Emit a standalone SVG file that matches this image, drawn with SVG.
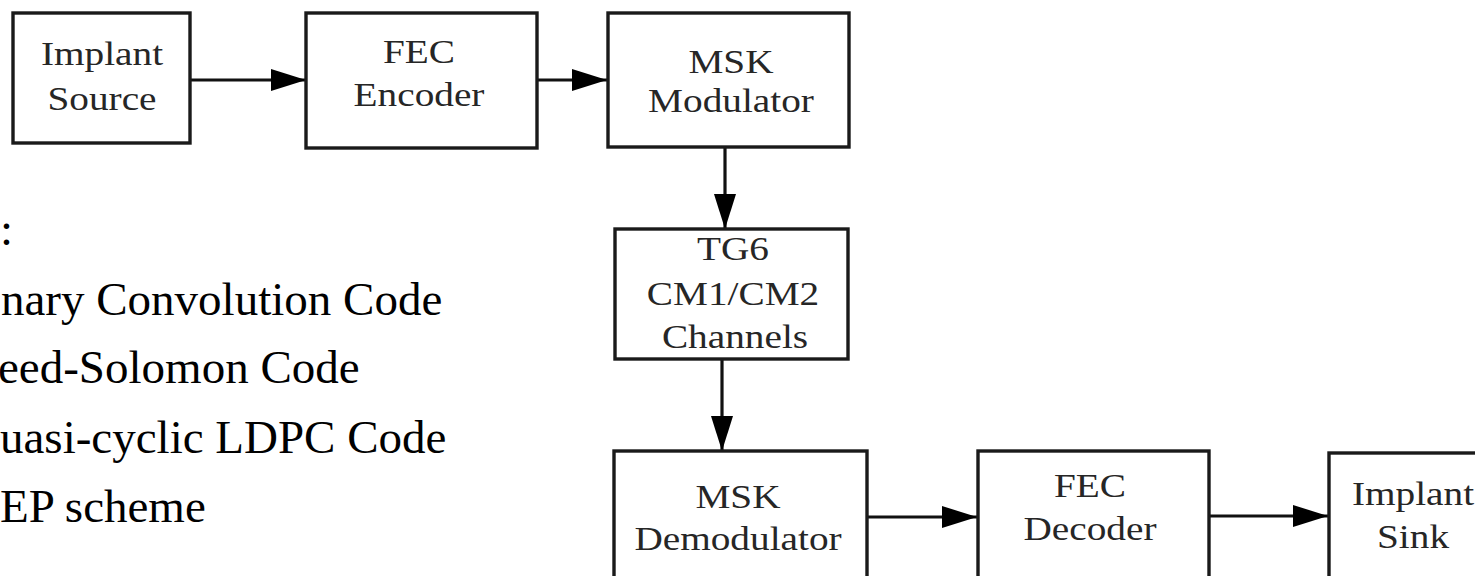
<svg xmlns="http://www.w3.org/2000/svg" width="1475" height="576" viewBox="0 0 1475 576">
<style>
.box{fill:#fff;stroke:#1a1a1a;stroke-width:3.4}
.lbl{font-family:"Liberation Serif","Times New Roman",serif;font-size:33px;fill:#262626;text-anchor:middle}
.side{font-family:"Liberation Serif","Times New Roman",serif;font-size:47px;fill:#000}
.conn{stroke:#111;stroke-width:3.2;fill:none}
</style>
<defs>
<marker id="ah" viewBox="0 0 35 22" refX="35" refY="11" markerWidth="35" markerHeight="22" markerUnits="userSpaceOnUse" orient="auto">
<path d="M0,0 L35,11 L0,22 Z" fill="#000"/>
</marker>
</defs>
<rect width="1475" height="576" fill="#fff"/>

<g id="connectors">
<line class="conn" x1="190" y1="80" x2="306" y2="80" marker-end="url(#ah)"/>
<line class="conn" x1="537" y1="80" x2="607" y2="80" marker-end="url(#ah)"/>
<line class="conn" x1="725" y1="147" x2="725" y2="229" marker-end="url(#ah)"/>
<line class="conn" x1="722" y1="359" x2="722" y2="451" marker-end="url(#ah)"/>
<line class="conn" x1="867" y1="517" x2="977" y2="517" marker-end="url(#ah)"/>
<line class="conn" x1="1209" y1="516" x2="1328" y2="516" marker-end="url(#ah)"/>
</g>

<g id="implant-source">
<rect class="box" x="13" y="13" width="177" height="130"/>
<text class="lbl" transform="translate(102,65) scale(1.19,1)">Implant</text>
<text class="lbl" transform="translate(102,110) scale(1.19,1)">Source</text>
</g>

<g id="fec-encoder">
<rect class="box" x="306" y="13" width="231" height="135"/>
<text class="lbl" transform="translate(419,63) scale(1.19,1)">FEC</text>
<text class="lbl" transform="translate(419,106) scale(1.19,1)">Encoder</text>
</g>

<g id="msk-modulator">
<rect class="box" x="608" y="13" width="241" height="134"/>
<text class="lbl" transform="translate(731,73) scale(1.19,1)">MSK</text>
<text class="lbl" transform="translate(731,112) scale(1.19,1)">Modulator</text>
</g>

<g id="tg6-channels">
<rect class="box" x="615" y="229" width="233" height="130"/>
<text class="lbl" transform="translate(733,260) scale(1.19,1)">TG6</text>
<text class="lbl" transform="translate(733,305) scale(1.19,1)">CM1/CM2</text>
<text class="lbl" transform="translate(735,348) scale(1.19,1)">Channels</text>
</g>

<g id="msk-demodulator">
<rect class="box" x="614" y="451" width="253" height="140"/>
<text class="lbl" transform="translate(738,508) scale(1.19,1)">MSK</text>
<text class="lbl" transform="translate(738,550) scale(1.19,1)">Demodulator</text>
</g>

<g id="fec-decoder">
<rect class="box" x="978" y="451" width="231" height="140"/>
<text class="lbl" transform="translate(1090,497) scale(1.19,1)">FEC</text>
<text class="lbl" transform="translate(1090,540) scale(1.19,1)">Decoder</text>
</g>

<g id="implant-sink">
<rect class="box" x="1329" y="453" width="170" height="140"/>
<text class="lbl" transform="translate(1413,505) scale(1.19,1)">Implant</text>
<text class="lbl" transform="translate(1413,548) scale(1.19,1)">Sink</text>
</g>

<g id="fec-codes-list">
<text class="side" x="0" y="245">:</text>
<text class="side" x="1" y="315">nary Convolution Code</text>
<text class="side" x="-2" y="383">eed-Solomon Code</text>
<text class="side" x="0" y="453">uasi-cyclic LDPC Code</text>
<text class="side" x="0" y="522">EP scheme</text>
</g>
</svg>
